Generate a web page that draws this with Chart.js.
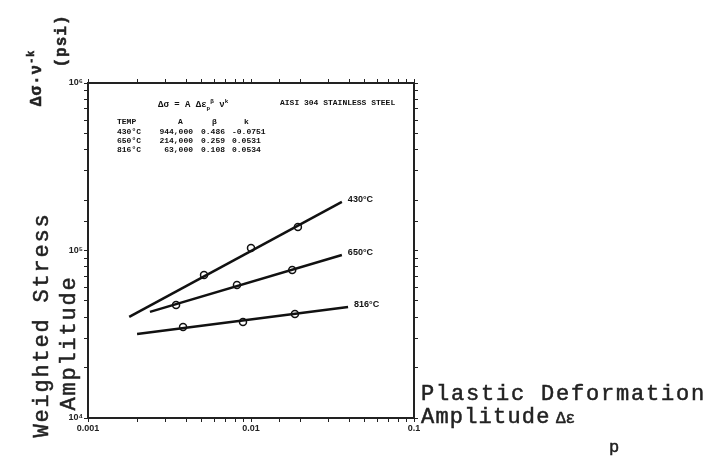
<!DOCTYPE html>
<html>
<head>
<meta charset="utf-8">
<script src="https://cdn.jsdelivr.net/npm/chart.js@4.4.0/dist/chart.umd.min.js"></script>
<style>
  body { margin: 0; background: #fff; }
  #wrap { position: relative; width: 715px; height: 460px; overflow: hidden; }
  #c { position: absolute; left: 0; top: 0; }
  .tw { position: absolute; font-family: "Liberation Mono", monospace; color: #222; white-space: nowrap; -webkit-text-stroke: 0.5px #222; }
  .big { font-size: 22px; letter-spacing: 1.8px; line-height: 22px; }
  .rot { transform: translate(-50%, -50%) rotate(-90deg); }
  .tiny { font-family: "Liberation Mono", monospace; font-weight: bold; font-size: 8px; color: #111; position: absolute; white-space: nowrap; line-height: 8px; }
</style>
</head>
<body>
<div id="wrap">
  <canvas id="c" width="715" height="460"></canvas>

  <!-- y axis titles -->
  <div class="tw rot" style="left:36px;top:78px;font-size:16px;font-weight:bold;letter-spacing:1px;">Δσ·ν<sup style="font-size:10px">-k</sup></div>
  <div class="tw rot" style="left:62px;top:41px;font-size:16px;font-weight:bold;letter-spacing:1px;">(psi)</div>
  <div class="tw big rot" style="left:43px;top:325px;">Weighted Stress</div>
  <div class="tw big rot" style="left:70px;top:343px;">Amplitude</div>

  <!-- x axis title -->
  <div class="tw big" style="left:421px;top:384px;">Plastic Deformation</div>
  <div class="tw big" style="left:421px;top:407px;letter-spacing:1.2px;">Amplitude</div>
  <div class="tw" style="left:556px;top:410px;font-size:16px;">Δε</div>
  <div class="tw" style="left:609px;top:438px;font-size:17px;">p</div>

  <!-- legend table -->
  <div class="tiny" style="left:158px;top:98px;font-size:9px;">Δσ = A Δε<sub style="font-size:6px">p</sub><sup style="font-size:6px">β</sup> ν<sup style="font-size:6px">k</sup></div>
  <div class="tiny" style="left:280px;top:99px;">AISI 304 STAINLESS STEEL</div>
  <div id="table"></div>
</div>

<script>
// fitted lines (end points)
var temps = ["430°C", "650°C", "816°C"];

var lineStrain430 = [0.00179, 0.0361];
var lineStress430 = [40100, 195000];
var lineStrain650 = [0.0024, 0.0361];
var lineStress650 = [43000, 94000];
var lineStrain816 = [0.0020, 0.0394];
var lineStress816 = [31700, 46000];

// measured points
var strain430 = [0.00515, 0.0100, 0.0194];
var stress430 = [71400, 103500, 138000];
var strain650 = [0.00347, 0.0082, 0.0179];
var stress650 = [47300, 62200, 76600];
var strain816 = [0.00383, 0.00893, 0.0186];
var stress816 = [34900, 37400, 41800];

// constants table
var tableHead = ["TEMP", "A", "β", "k"];
var tableA = ["944,000", "214,000", "63,000"];
var tableBeta = ["0.486", "0.259", "0.108"];
var tableK = ["-0.0751", "0.0531", "0.0534"];

// axis ranges
var xMin = 0.001, xMax = 0.1;
var yMin = 1e4, yMax = 1e6;

var lineStrain = [lineStrain430, lineStrain650, lineStrain816];
var lineStress = [lineStress430, lineStress650, lineStress816];
var ptStrain = [strain430, strain650, strain816];
var ptStress = [stress430, stress650, stress816];

function toXY(xs, ys) {
  return xs.map(function (v, i) { return { x: v, y: ys[i] }; });
}

//bang hang so
function buildTable() {
  var colX = [117, 178, 212, 244];
  var rowY = [118, 128, 137, 146];
  var html = "";
  tableHead.forEach(function (h, j) {
    html += `<div class="tiny" style="left:${colX[j]}px;top:${rowY[0]}px">${h}</div>`;
  });
  temps.forEach(function (t, i) {
    var y = rowY[i + 1];
    html += `<div class="tiny" style="left:117px;top:${y}px">${t}</div>`;
    html += `<div class="tiny" style="left:193px;top:${y}px;transform:translateX(-100%)">${tableA[i]}</div>`;
    html += `<div class="tiny" style="left:201px;top:${y}px">${tableBeta[i]}</div>`;
    html += `<div class="tiny" style="left:232px;top:${y}px">${tableK[i]}</div>`;
  });
  document.getElementById("table").innerHTML = html;
}
buildTable();

function isDecade(v) {
  var l = Math.log10(v);
  return Math.abs(l - Math.round(l)) < 1e-6;
}

var datasets = [];
temps.forEach(function (t, i) {
  datasets.push({
    type: "line",
    label: t + " fit",
    data: toXY(lineStrain[i], lineStress[i]),
    borderColor: "#111",
    borderWidth: 2.5,
    pointRadius: 0,
    fill: false,
  });
  datasets.push({
    type: "scatter",
    label: t,
    data: toXY(ptStrain[i], ptStress[i]),
    pointStyle: "circle",
    pointRadius: 3.5,
    pointBorderWidth: 1.5,
    pointBorderColor: "#111",
    pointBackgroundColor: "#fff",
    showLine: false,
  });
});

// nhan ten nhiet do o cuoi moi duong
var lineLabelPlugin = {
  id: "lineLabels",
  afterDatasetsDraw: function (chart) {
    var ctx = chart.ctx;
    var xs = chart.scales.x, ys = chart.scales.y;
    ctx.save();
    ctx.font = 'bold 9px "Liberation Sans"';
    ctx.fillStyle = "#111";
    ctx.textBaseline = "middle";
    temps.forEach(function (t, i) {
      var n = lineStrain[i].length - 1;
      var px = xs.getPixelForValue(lineStrain[i][n]) + 6;
      var py = ys.getPixelForValue(lineStress[i][n]) - 2;
      ctx.fillText(t, px, py);
    });
    ctx.restore();
  },
};

var gridOpts = { drawOnChartArea: false, color: "#222", tickLength: 4, lineWidth: 1 };
var borderOpts = { color: "#222", width: 2 };
var tickFont = { family: "Liberation Sans", size: 9, weight: "bold" };

new Chart(document.getElementById("c"), {
  data: { datasets: datasets },
  plugins: [lineLabelPlugin],
  options: {
    responsive: false,
    animation: false,
    layout: { padding: { left: 58, right: 295, top: 77, bottom: 22 } },
    plugins: { legend: { display: false }, tooltip: { enabled: false } },
    scales: {
      x: {
        type: "logarithmic",
        position: "bottom",
        min: xMin,
        max: xMax,
        grid: gridOpts,
        border: borderOpts,
        ticks: {
          autoSkip: false,
          maxRotation: 0,
          color: "#222",
          font: tickFont,
          padding: 1,
          callback: function (v) { return isDecade(v) ? String(Number(v.toPrecision(1))) : ""; },
        },
        afterFit: function (s) { s.height = 20; },
      },
      x2: {
        type: "logarithmic",
        position: "top",
        min: xMin,
        max: xMax,
        grid: gridOpts,
        border: borderOpts,
        ticks: { display: false, autoSkip: false },
        afterFit: function (s) { s.height = 6; },
      },
      y: {
        type: "logarithmic",
        position: "left",
        min: yMin,
        max: yMax,
        grid: gridOpts,
        border: borderOpts,
        ticks: {
          autoSkip: false,
          color: "#222",
          font: tickFont,
          padding: 1,
          callback: function (v) {
            if (!isDecade(v)) return "";
            var e = Math.round(Math.log10(v));
            return "10" + ["⁰","¹","²","³","⁴","⁵","⁶"][e];
          },
        },
        afterFit: function (s) { s.width = 30; },
      },
      y2: {
        type: "logarithmic",
        position: "right",
        min: yMin,
        max: yMax,
        grid: gridOpts,
        border: borderOpts,
        ticks: { display: false, autoSkip: false },
        afterFit: function (s) { s.width = 6; },
      },
    },
  },
});
</script>
</body>
</html>
